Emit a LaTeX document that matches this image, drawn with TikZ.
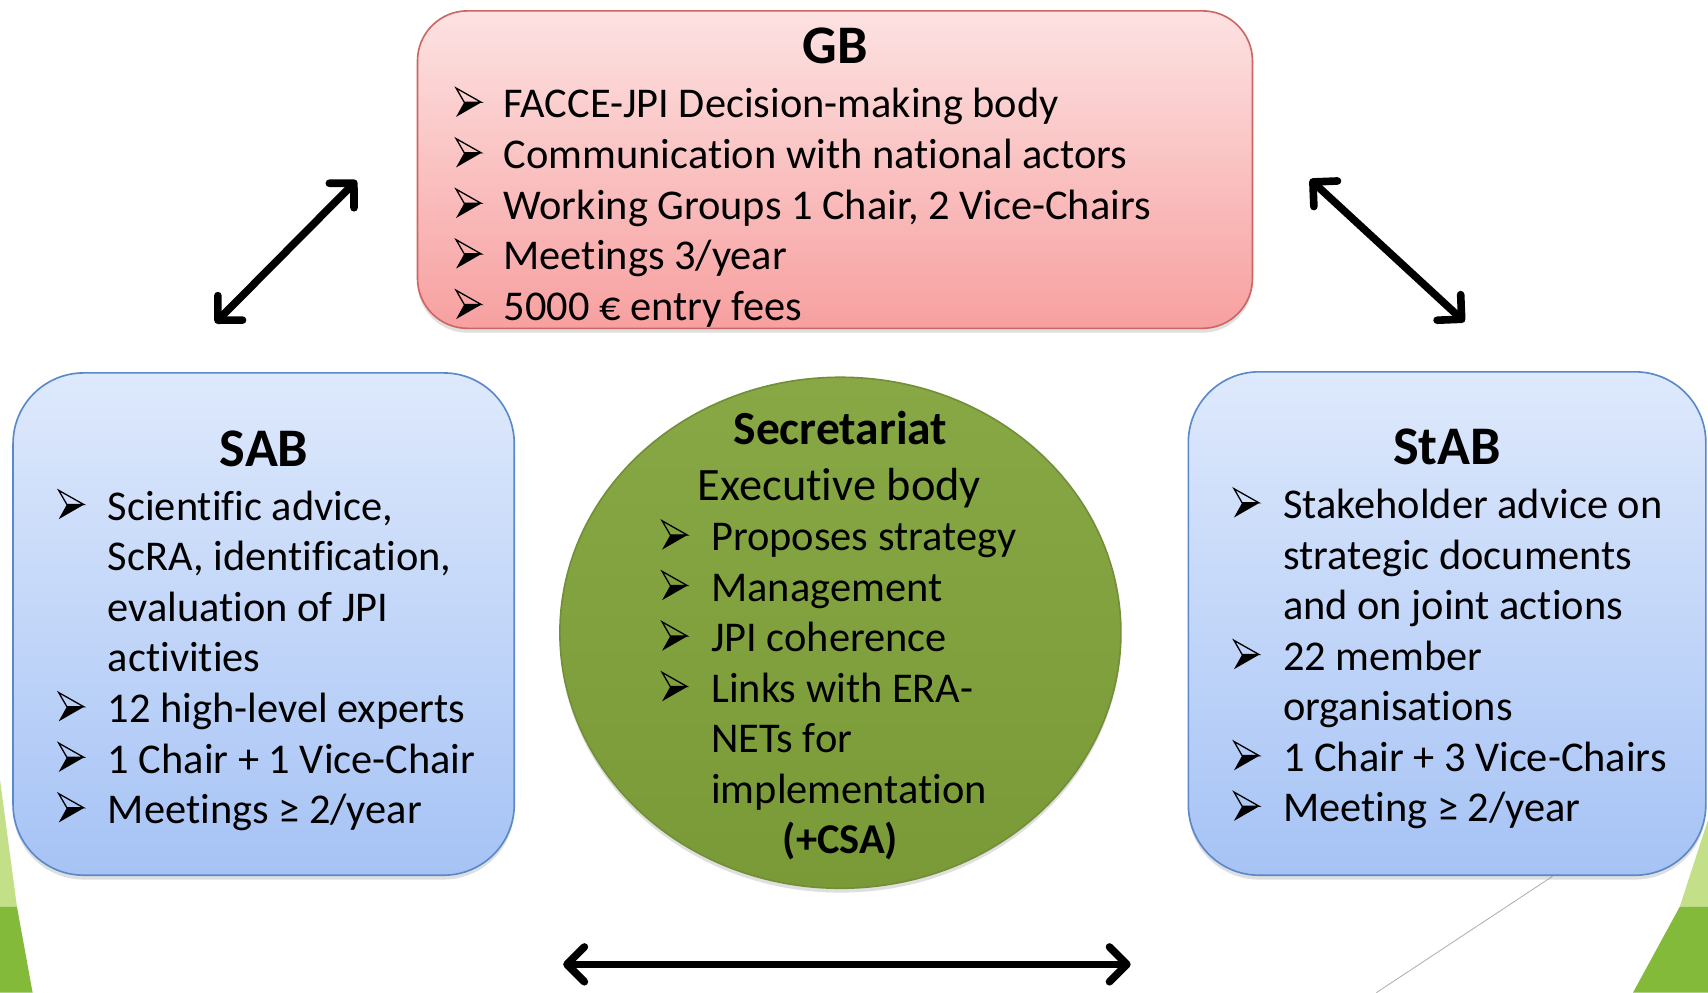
\documentclass[tikz,border=0pt]{standalone}
\usepackage{fontspec}
\setmainfont{Carlito}[Ligatures={NoCommon,NoContextual}]
\usetikzlibrary{shapes.geometric,arrows.meta,shadows}
\definecolor{gbtop}{HTML}{FDE2E2}
\definecolor{gbbot}{HTML}{F7A0A0}
\definecolor{gbline}{HTML}{CD6663}
\definecolor{bltop}{HTML}{DEE9FC}
\definecolor{blbot}{HTML}{A6C3F5}
\definecolor{blline}{HTML}{5A88C8}
\definecolor{gntop}{HTML}{88A845}
\definecolor{gnbot}{HTML}{7A9A38}
\definecolor{gnline}{HTML}{728F38}
\definecolor{declight}{HTML}{C3DF88}
\definecolor{decdark}{HTML}{84BA3A}
\begin{document}
\begin{tikzpicture}[x=1pt,y=-1pt,
  bodytxt/.style={anchor=base west, inner sep=0pt, font=\fontsize{39}{46}\selectfont},
  ttl/.style={anchor=base, inner sep=0pt, font=\fontsize{50}{60}\selectfont\bfseries},
  gbbox/.style={rectangle, rounded corners=46pt, draw=gbline, line width=1.5pt,
    top color=gbtop, bottom color=gbbot, inner sep=0pt,
    drop shadow={shadow xshift=0pt, shadow yshift=-4pt, opacity=0.25}},
  blbox/.style={rectangle, rounded corners=65pt, draw=blline, line width=1.5pt,
    top color=bltop, bottom color=blbot, inner sep=0pt,
    drop shadow={shadow xshift=0pt, shadow yshift=-4pt, opacity=0.25}},
  secell/.style={ellipse, draw=gnline, line width=1.5pt,
    top color=gntop, bottom color=gnbot, inner sep=0pt,
    drop shadow={shadow xshift=0pt, shadow yshift=-4pt, opacity=0.25}},
  dblarrow/.style={line width=7pt, line cap=round,
    {Straight Barb[length=16pt,width=32pt,line cap=round,line join=round]}-{Straight Barb[length=16pt,width=32pt,line cap=round,line join=round]}},
  bull/.pic={
    \fill[black] (-3.5,0) -- (12.5,0) -- (-11,13.5) -- cycle;
    \draw[black, line width=1.2pt, line join=miter] (-11,-13) -- (12,0) -- (-3.5,0) -- cycle;
  }
]
\useasboundingbox (0,0) rectangle (1571,913);
\fill[white] (0,0) rectangle (1571,913);

% decorations
\fill[declight] (0,717) -- (15.6,834) -- (0,834) -- cycle;
\fill[decdark] (0,834) -- (15.6,834) -- (30,913) -- (0,913) -- cycle;
\fill[declight] (1571,754) -- (1571,834) -- (1545,834) -- cycle;
\fill[decdark] (1545,834) -- (1571,834) -- (1571,913) -- (1502,913) -- cycle;
\draw[gray!60, line width=0.8pt] (1428,806) -- (1266,913);

% boxes
\node[gbbox, minimum width=768pt, minimum height=292pt] (gb) at (768,156) {};
\node[blbox, minimum width=461pt, minimum height=462pt] (sab) at (242.5,574) {};
\node[blbox, minimum width=476pt, minimum height=463pt] (stab) at (1331,573.5) {};
\node[secell, minimum width=516pt, minimum height=470pt] (sec) at (773,582) {};

% GB text
\node[ttl] (gbt) at (768,58) {GB};
\foreach \yy/\nm/\tx in {108.5/gba/{FACCE-JPI Decision-making body},
  155/gbb/{Communication with national actors},
  201.5/gbc/{Working Groups 1 Chair, 2 Vice-Chairs},
  248/gbd/{Meetings 3/year},
  294.5/gbe/{5000 € entry fees}}{
  \pic at (430.5,\yy-14.5) {bull};
  \node[bodytxt] (\nm) at (463,\yy) {\tx};
}

% SAB text
\node[ttl] (sabt) at (243,429) {SAB};
\foreach \yy in {478.5,664.5,711,757.5}{\pic at (65,\yy-14.5) {bull};}
\node[bodytxt] (saba) at (99,478.5) {Scientific advice,};
\node[bodytxt] (sabb) at (99,525) {ScRA, identification,};
\node[bodytxt] (sabc) at (99,571.5) {evaluation of JPI};
\node[bodytxt] (sabd) at (99,618) {activities};
\node[bodytxt] (sabe) at (99,664.5) {12 high-level experts};
\node[bodytxt] (sabf) at (99,711) {1 Chair + 1 Vice-Chair};
\node[bodytxt] (sabg) at (99,757.5) {Meetings ≥ 2/year};

% StAB text
\node[ttl] (stabt) at (1331,427) {StAB};
\foreach \yy in {477,616.5,709.5,756}{\pic at (1146,\yy-14.5) {bull};}
\node[bodytxt] (staba) at (1180,477) {Stakeholder advice on};
\node[bodytxt] (stabb) at (1180,523.5) {strategic documents};
\node[bodytxt] (stabc) at (1180,570) {and on joint actions};
\node[bodytxt] (stabd) at (1180,616.5) {22 member};
\node[bodytxt] (stabe) at (1180,663) {organisations};
\node[bodytxt] (stabf) at (1180,709.5) {1 Chair + 3 Vice-Chairs};
\node[bodytxt] (stabg) at (1180,756) {Meeting ≥ 2/year};

% Secretariat text
\node[anchor=base, inner sep=0pt, font=\fontsize{43.7}{50}\selectfont\bfseries] (sect) at (773,409) {Secretariat};
\node[anchor=base, inner sep=0pt, font=\fontsize{42.7}{50}\selectfont] (secx) at (772,460) {Executive body};
\foreach \yy in {506.5,553,599.5,646}{\pic at (620,\yy-14.5) {bull};}
\node[bodytxt] (seca) at (654,506.5) {Proposes strategy};
\node[bodytxt] (secb) at (654,553) {Management};
\node[bodytxt] (secc) at (654,599.5) {JPI coherence};
\node[bodytxt] (secd) at (654,646) {Links with ERA-};
\node[bodytxt] (sece) at (654,692.5) {NETs for};
\node[bodytxt] (secf) at (654,739) {implementation};
\node[anchor=base, inner sep=0pt, font=\fontsize{39}{46}\selectfont\bfseries] (secg) at (773,785) {(+CSA)};

% arrows
\coordinate (la1) at (198,297);
\coordinate (la2) at (328,166);
\coordinate (ra1) at (1205,165);
\coordinate (ra2) at (1347,296);
\coordinate (ba1) at (518,887);
\coordinate (ba2) at (1040,887);
\draw[dblarrow] (la1) -- (la2);
\draw[dblarrow] (ra1) -- (ra2);
\draw[dblarrow] (ba1) -- (ba2);
\end{tikzpicture}
\end{document}
